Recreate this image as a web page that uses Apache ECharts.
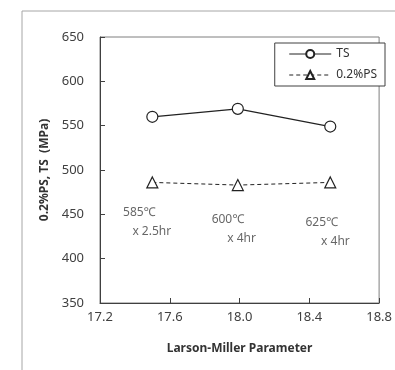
<!DOCTYPE html>
<html>
<head>
<meta charset="utf-8">
<script src="https://cdn.jsdelivr.net/npm/echarts@6/dist/echarts.min.js"></script>
<style>
  html, body { margin: 0; padding: 0; background: #fff; }
  #chart { width: 395px; height: 370px; }
</style>
</head>
<body>
<div id="chart"></div>
<script>
// values
const lmp = [17.5, 17.99, 18.52];
const tsValues = [560, 569, 549];
const psValues = [486, 483, 486];
const noteText = ["585℃\n   x 2.5hr", "600℃\n     x 4hr", "625℃\n     x 4hr"];
const noteX = [17.332, 17.84, 18.378];
const noteY = [441, 433, 430.5];

const font = "'Noto Sans', sans-serif";
const chart = echarts.init(document.getElementById("chart"));

chart.setOption({
  backgroundColor: "#fff",
  animation: false,
  graphic: [
    {
      type: "rect",
      shape: { x: 22, y: 11, width: 420, height: 400 },
      style: { fill: "none", stroke: "#a6a6a6", lineWidth: 1 },
      silent: true,
    },
  ],
  grid: {
    left: 100,
    right: 4,
    top: 37,
    bottom: 67,
    show: true,
    borderColor: "#7f7f7f",
    borderWidth: 1,
  },
  legend: {
    right: 10,
    top: 43,
    orient: "vertical",
    itemWidth: 42,
    itemHeight: 10,
    itemGap: 9,
    padding: [5, 8, 5, 14],
    borderColor: "#404040",
    borderWidth: 1,
    backgroundColor: "#fff",
    lineStyle: { width: 1 },
    textStyle: { fontFamily: font, fontSize: 12, color: "#333" },
    data: ["TS", "0.2%PS"],
  },
  xAxis: {
    type: "value",
    min: 17.2,
    max: 18.8,
    interval: 0.4,
    name: "Larson-Miller Parameter",
    nameLocation: "middle",
    nameGap: 40,
    nameTextStyle: { fontFamily: font, fontSize: 12, fontWeight: "bold", color: "#333" },
    axisLine: { lineStyle: { color: "#404040" } },
    axisTick: { inside: true, length: 5, lineStyle: { color: "#404040" } },
    axisLabel: {
      fontFamily: font,
      fontSize: 13,
      color: "#404040",
      margin: 8,
      formatter: (v) => v.toFixed(1),
    },
    splitLine: { show: false },
  },
  yAxis: {
    type: "value",
    min: 350,
    max: 650,
    interval: 50,
    name: "0.2%PS, TS  (MPa)",
    nameLocation: "middle",
    nameGap: 42,
    nameTextStyle: { fontFamily: font, fontSize: 12, fontWeight: "bold", color: "#333" },
    axisLine: { lineStyle: { color: "#404040" } },
    axisTick: { inside: true, length: 5, lineStyle: { color: "#404040" } },
    axisLabel: { fontFamily: font, fontSize: 13, color: "#404040", margin: 16 },
    splitLine: { show: false },
  },
  series: [
    {
      name: "TS",
      type: "line",
      data: lmp.map((x, i) => [x, tsValues[i]]),
      symbol: "circle",
      symbolSize: 11,
      showAllSymbol: true,
      lineStyle: { color: "#222", width: 1.2 },
      itemStyle: { color: "#fff", borderColor: "#222", borderWidth: 1.2 },
    },
    {
      name: "0.2%PS",
      type: "line",
      data: lmp.map((x, i) => [x, psValues[i]]),
      symbol: "triangle",
      symbolSize: 11,
      lineStyle: { color: "#222", width: 1, type: [4, 3] },
      itemStyle: { color: "#fff", borderColor: "#222", borderWidth: 1.2 },
    },
    {
      name: "notes",
      type: "scatter",
      symbolSize: 0,
      silent: true,
      data: noteX.map((x, i) => [x, noteY[i]]),
      label: {
        show: true,
        position: "inside",
        align: "left",
        fontFamily: font,
        fontSize: 12,
        lineHeight: 19,
        color: "#404040",
        formatter: (p) => noteText[p.dataIndex],
      },
    },
  ],
});
</script>
</body>
</html>
